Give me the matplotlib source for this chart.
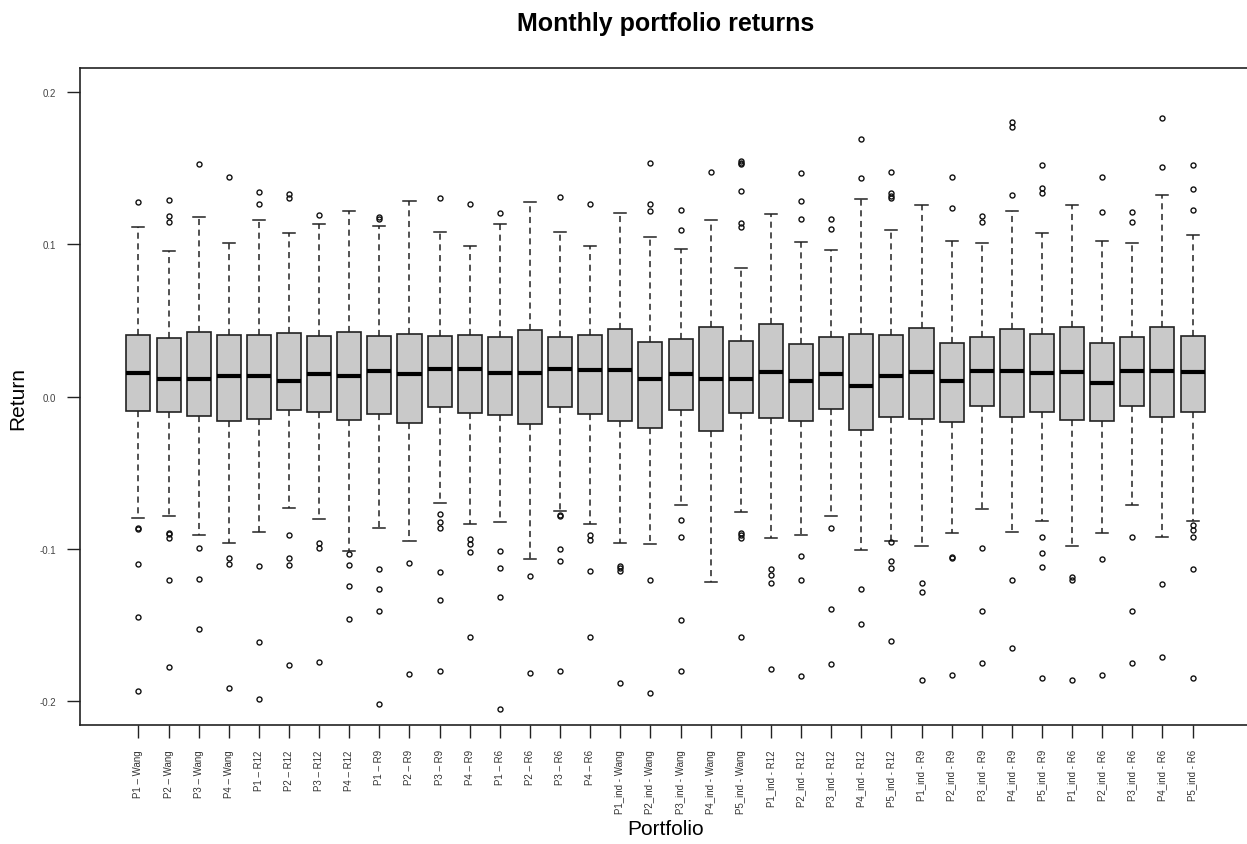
import matplotlib
matplotlib.use("Agg")
import matplotlib.pyplot as plt

plt.rcParams['font.family'] = ['Liberation Sans', 'DejaVu Sans']

labels = ["P1 – Wang", "P2 – Wang", "P3 – Wang", "P4 – Wang",
          "P1 – R12", "P2 – R12", "P3 – R12", "P4 – R12",
          "P1 – R9", "P2 – R9", "P3 – R9", "P4 – R9",
          "P1 – R6", "P2 – R6", "P3 – R6", "P4 – R6",
          "P1_ind - Wang", "P2_ind - Wang", "P3_ind - Wang", "P4_ind - Wang", "P5_ind - Wang",
          "P1_ind - R12", "P2_ind - R12", "P3_ind - R12", "P4_ind - R12", "P5_ind - R12",
          "P1_ind - R9", "P2_ind - R9", "P3_ind - R9", "P4_ind - R9", "P5_ind - R9",
          "P1_ind - R6", "P2_ind - R6", "P3_ind - R6", "P4_ind - R6", "P5_ind - R6"]

whis_hi = [.1112, .0958, .1180, .1011, .1158, .1077, .1132, .1217, .1123, .1287, .1079, .0991,
           .1136, .1276, .1081, .0989, .1208, .1050, .0967, .1162, .0842, .1197, .1015, .0965,
           .1298, .1096, .1259, .1024, .1011, .1221, .1072, .1259, .1024, .1011, .1325, .1061]
q3 = [.0404, .0382, .0425, .0404, .0404, .0419, .0399, .0425, .0399, .0414, .0397, .0404,
      .0393, .0436, .0393, .0404, .0447, .0357, .0377, .0456, .0364, .0474, .0346, .0388,
      .0412, .0404, .0452, .0351, .0388, .0445, .0412, .0456, .0351, .0388, .0456, .0397]
medians = [.0156, .0118, .0112, .0136, .0136, .0105, .0145, .0134, .0167, .0151, .0178, .0180,
           .0156, .0156, .0180, .0173, .0171, .0116, .0151, .0112, .0112, .0158, .0099, .0149,
           .0068, .0134, .0162, .0105, .0167, .0167, .0156, .0160, .0092, .0167, .0165, .0160]
q1 = [-.0094, -.0101, -.0125, -.0158, -.0147, -.0090, -.0105, -.0154, -.0114, -.0171, -.0070, -.0107,
      -.0123, -.0178, -.0068, -.0114, -.0164, -.0204, -.0092, -.0224, -.0107, -.0140, -.0160, -.0083,
      -.0221, -.0138, -.0149, -.0167, -.0061, -.0132, -.0103, -.0154, -.0160, -.0061, -.0134, -.0101]
whis_lo = [-.0798, -.0783, -.0910, -.0963, -.0893, -.0732, -.0807, -.1018, -.0864, -.0947, -.0702, -.0838,
           -.0825, -.1066, -.0750, -.0836, -.0961, -.0967, -.0713, -.1217, -.0759, -.0930, -.0910, -.0787,
           -.1011, -.0947, -.0985, -.0895, -.0737, -.0890, -.0818, -.0985, -.0895, -.0713, -.0925, -.0818]
outliers = [
    [.1276, -.0865, -.0872, -.1099, -.1447, -.1939],
    [.1294, .1184, .1149, -.0895, -.0904, -.0930, -.1206, -.1778],
    [.1531, -.0993, -.1197, -.1529],
    [.1441, -.1061, -.1099, -.1919],
    [.1342, .1263, -.1116, -.1616, -.1989],
    [.1333, .1303, -.0910, -.1061, -.1105, -.1763],
    [.1193, -.0960, -.0998, -.1748],
    [-.1035, -.1110, -.1248, -.1465],
    [.1178, .1168, -.1136, -.1268, -.1412, -.2022],
    [-.1094, -.1827],
    [.1305, -.0772, -.0827, -.0866, -.1156, -.1340, -.1803],
    [.1268, -.0936, -.0971, -.1024, -.1579],
    [.1204, -.1018, -.1127, -.1316, -.2053],
    [-.1178, -.1816],
    [.1309, -.0776, -.0787, -.1004, -.1083, -.1805],
    [.1265, -.0912, -.0945, -.1145, -.1579],
    [-.1114, -.1127, -.1149, -.1882],
    [.1537, .1263, .1219, -.1204, -.1949],
    [.1226, .1096, -.0811, -.0921, -.1469, -.1805],
    [.1478],
    [.1550, .1537, .1526, .1351, .1138, .1116, -.0895, -.0912, -.0930, -.1579],
    [-.1132, -.1175, -.1224, -.1794],
    [.1467, .1285, .1169, -.1050, -.1204, -.1836],
    [.1167, .1103, -.0866, -.1399, -.1759],
    [.1695, .1439, -.1268, -.1496],
    [.1474, .1336, .1320, .1307, -.0956, -.1081, -.1125, -.1605],
    [-.1228, -.1283, -.1864],
    [.1441, .1241, -.1055, -.1061, -.1833],
    [.1189, .1149, -.0998, -.1410, -.1752],
    [.1805, .1770, .1325, -.1208, -.1651],
    [.1522, .1368, .1336, -.0925, -.1031, -.1123, -.1853],
    [-.1184, -.1208, -.1864],
    [.1441, .1213, -.1066, -.1833],
    [.1213, .1149, -.0925, -.1408, -.1752],
    [.1829, .1509, -.1232, -.1711],
    [.1522, .1362, .1226, -.0846, -.0879, -.0925, -.1134, -.1853],
]

stats = []
for i in range(len(labels)):
    stats.append(dict(label=labels[i], med=medians[i], q1=q1[i], q3=q3[i],
                      whislo=whis_lo[i], whishi=whis_hi[i], fliers=outliers[i]))

fig = plt.figure(figsize=(12.47, 8.45), dpi=100)
ax = fig.add_axes([80 / 1247, (845 - 726) / 845, (1251 - 80) / 1247, (726 - 69) / 845])

positions = list(range(1, len(labels) + 1))
ax.bxp(stats, positions=positions, widths=0.8, capwidths=0.4, patch_artist=True,
       boxprops=dict(facecolor='#c9c9c9', edgecolor='#222222', linewidth=1.2),
       medianprops=dict(color='black', linewidth=3, solid_capstyle='butt'),
       whiskerprops=dict(color='#222222', linewidth=1.1, linestyle=(0, (4, 3))),
       capprops=dict(color='#222222', linewidth=1.1),
       flierprops=dict(marker='o', markersize=3.6, markerfacecolor='none',
                       markeredgecolor='#111111', markeredgewidth=1.0))

ax.set_xlim(-0.94, 37.94)
ax.set_ylim(-0.216, 0.216)
ax.set_yticks([-0.2, -0.1, 0.0, 0.1, 0.2])
ax.set_yticklabels(["-0.2", "-0.1", "0.0", "0.1", "0.2"])
ax.set_xticks(positions)
ax.set_xticklabels(labels, rotation=90, fontsize=7, color='#333333')
ax.tick_params(axis='y', labelsize=7, labelcolor='#444444', length=9.4, width=1.0, pad=8, color='#222222')
ax.tick_params(axis='x', length=9.4, width=1.0, pad=8, color='#222222')
for s in ax.spines.values():
    s.set_linewidth(1.2)
    s.set_color('#222222')

fig.text(18 / 1247, 1 - 398 / 845, "Return", rotation=90, ha='center', va='center', fontsize=15)
fig.text(666 / 1247, 1 - 830 / 845, "Portfolio", ha='center', va='center', fontsize=15)
fig.text(666 / 1247, 1 - 24 / 845, "Monthly portfolio returns", ha='center', va='center',
         fontsize=18, fontweight='bold')

fig.savefig("out.png", dpi=100)
